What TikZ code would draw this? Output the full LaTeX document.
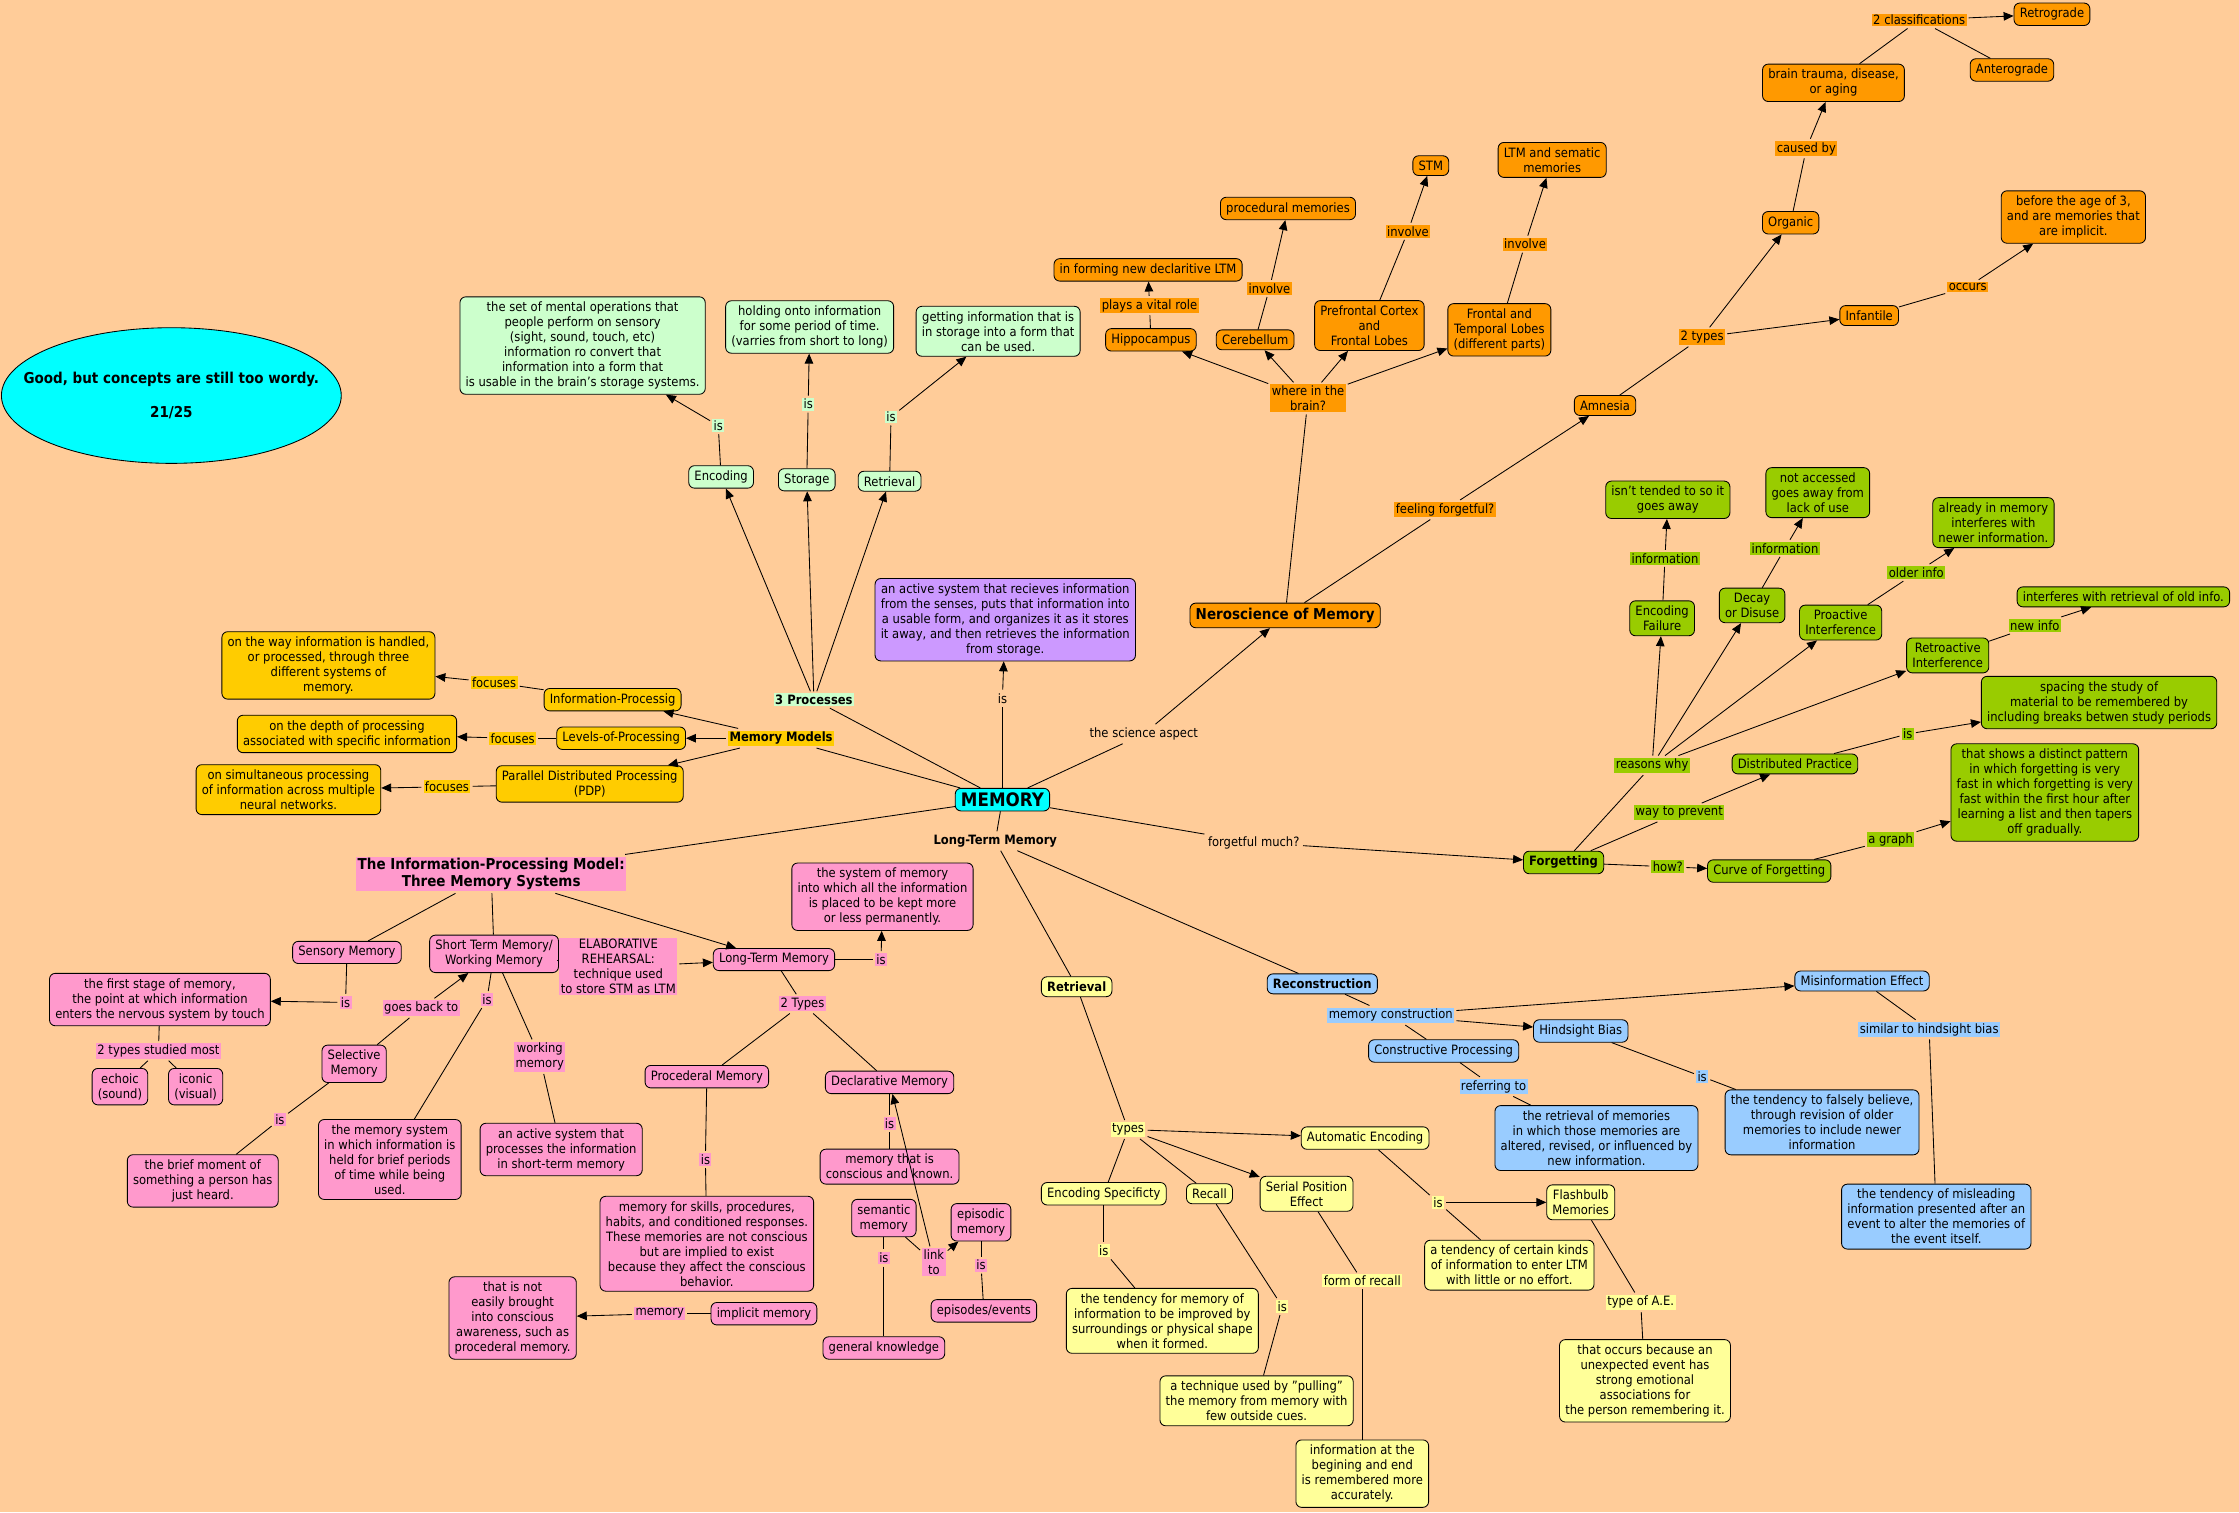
\documentclass[tikz,border=0pt]{standalone}
\usepackage{fontspec}
\setmainfont{DejaVu Sans}[FakeStretch=0.9]
\usetikzlibrary{arrows.meta,shapes.geometric}
\definecolor{bgPeach}{RGB}{255,204,153}
\definecolor{cMint}{RGB}{204,255,204}
\definecolor{cOrange}{RGB}{255,153,0}
\definecolor{cGold}{RGB}{255,204,0}
\definecolor{cPink}{RGB}{255,153,204}
\definecolor{cLilac}{RGB}{204,153,255}
\definecolor{cCyan}{RGB}{0,255,255}
\definecolor{cLemon}{RGB}{255,255,153}
\definecolor{cSky}{RGB}{153,204,255}
\definecolor{cLime}{RGB}{153,204,0}
\tikzset{
  concept/.style={draw, rounded corners=4pt, align=center, inner xsep=4pt, inner ysep=3.5pt, line width=0.6pt},
  mint/.style={concept, fill=cMint},
  orng/.style={concept, fill=cOrange},
  gold/.style={concept, fill=cGold},
  pink/.style={concept, fill=cPink},
  lemon/.style={concept, fill=cLemon},
  sky/.style={concept, fill=cSky},
  lime/.style={concept, fill=cLime},
  lnk/.style={inner sep=1pt, outer sep=1.5pt, align=center},
  lnkMint/.style={lnk, fill=cMint},
  lnkOrange/.style={lnk, fill=cOrange},
  lnkGold/.style={lnk, fill=cGold},
  lnkPink/.style={lnk, fill=cPink},
  lnkLemon/.style={lnk, fill=cLemon},
  lnkSky/.style={lnk, fill=cSky},
  lnkLime/.style={lnk, fill=cLime},
  bold/.style={font=\fontsize{9}{10.5}\selectfont\bfseries},
  boldBig/.style={font=\fontsize{10.5}{12}\selectfont\bfseries}
}
\begin{document}
\begin{tikzpicture}[x=1pt, y=-1pt, line width=0.6pt, >={Triangle[length=7pt,width=6pt]},
  font=\fontsize{9}{10.5}\selectfont]
\fill[bgPeach] (0,0) rectangle (1568,1059);
\useasboundingbox (0,0) rectangle (1568,1059);

\draw[fill=cCyan] (120,277) ellipse [x radius=119, y radius=47.5];
\node[align=center, boldBig] (grade) at (120,277) {Good, but concepts are still too wordy.\\[12pt]21/25};

\node[concept, fill=cCyan, font=\fontsize{13}{15}\selectfont\bfseries, inner ysep=3pt] (mem) at (702,560) {MEMORY};
\node[concept, fill=cLilac] (memdef) at (704,434) {an active system that recieves information\\from the senses, puts that information into\\a usable form, and organizes it as it stores\\it away, and then retrieves the information\\from storage.};
\node[lnk] (isMem) at (702,489) {is};
\draw (mem) -- (isMem);
\draw[->] (isMem) -- (memdef);

\node[lnkMint, bold] (procs) at (570,490) {3 Processes};
\node[mint] (enc) at (505,334) {Encoding};
\node[mint] (sto) at (565,336) {Storage};
\node[mint] (ret) at (623,337) {Retrieval};
\node[lnkMint] (isEnc) at (503,298) {is};
\node[lnkMint] (isSto) at (566,283) {is};
\node[lnkMint] (isRet) at (624,292) {is};
\node[mint] (encdef) at (408,242) {the set of mental operations that\\people perform on sensory\\(sight, sound, touch, etc)\\information ro convert that\\information into a form that\\is usable in the brain's storage systems.};
\node[mint] (stodef) at (567,229) {holding onto information\\for some period of time.\\(varries from short to long)};
\node[mint] (retdef) at (699,232) {getting information that is\\in storage into a form that\\can be used.};
\draw (mem) -- (procs);
\draw[->] (procs) -- (enc);
\draw[->] (procs) -- (sto);
\draw[->] (procs) -- (ret);
\draw (enc) -- (isEnc);
\draw[->] (isEnc) -- (encdef);
\draw (sto) -- (isSto);
\draw[->] (isSto) -- (stodef);
\draw (ret) -- (isRet);
\draw[->] (isRet) -- (retdef);

\node[lnkGold, bold] (models) at (547,517) {Memory Models};
\node[gold] (ipro) at (429,490) {Information-Processig};
\node[gold] (lop) at (435,517) {Levels-of-Processing};
\node[gold] (pdp) at (413,549) {Parallel Distributed Processing\\(PDP)};
\node[lnkGold] (fo1) at (346,478) {focuses};
\node[lnkGold] (fo2) at (359,517) {focuses};
\node[lnkGold] (fo3) at (313,551) {focuses};
\node[gold] (iproDef) at (230,466) {on the way information is handled,\\or processed, through three\\different systems of\\memory.};
\node[gold] (lopDef) at (243,514) {on the depth of processing\\associated with specific information};
\node[gold] (pdpDef) at (202,553) {on simultaneous processing\\of information across multiple\\neural networks.};
\draw (mem) -- (models);
\draw[->] (models) -- (ipro);
\draw[->] (models) -- (lop);
\draw[->] (models) -- (pdp);
\draw (ipro) -- (fo1);
\draw[->] (fo1) -- (iproDef);
\draw (lop) -- (fo2);
\draw[->] (fo2) -- (lopDef);
\draw (pdp) -- (fo3);
\draw[->] (fo3) -- (pdpDef);

\node[orng, boldBig] (neuro) at (900,431) {Neroscience of Memory};
\node[lnk] (sci) at (801,514) {the science aspect};
\node[lnkOrange] (where) at (916,279) {where in the\\brain?};
\node[orng] (hippo) at (806,238) {Hippocampus};
\node[orng] (cereb) at (879,238) {Cerebellum};
\node[orng] (prefr) at (959,228) {Prefrontal Cortex\\and\\Frontal Lobes};
\node[orng] (frontTemp) at (1050,231) {Frontal and\\Temporal Lobes\\(different parts)};
\node[lnkOrange] (vital) at (805,214) {plays a vital role};
\node[orng] (declLTM) at (804,189) {in forming new declaritive LTM};
\node[lnkOrange] (inv1) at (889,202) {involve};
\node[orng] (procMemN) at (902,146) {procedural memories};
\node[lnkOrange] (inv2) at (986,162) {involve};
\node[orng] (stm) at (1002,116) {STM};
\node[lnkOrange] (inv3) at (1068,171) {involve};
\node[orng] (ltmSem) at (1087,112) {LTM and sematic\\memories};
\draw (mem) -- (sci);
\draw[->] (sci) -- (neuro);
\draw (neuro) -- (where);
\draw[->] (where) -- (hippo);
\draw[->] (where) -- (cereb);
\draw[->] (where) -- (prefr);
\draw[->] (where) -- (frontTemp);
\draw (hippo) -- (vital);
\draw[->] (vital) -- (declLTM);
\draw (cereb) -- (inv1);
\draw[->] (inv1) -- (procMemN);
\draw (prefr) -- (inv2);
\draw[->] (inv2) -- (stm);
\draw (frontTemp) -- (inv3);
\draw[->] (inv3) -- (ltmSem);

\node[lnkOrange] (forgetful) at (1012,357) {feeling forgetful?};
\node[orng] (amnesia) at (1124,284) {Amnesia};
\node[lnkOrange] (twoTypes) at (1192,236) {2 types};
\node[orng] (organic) at (1254,156) {Organic};
\node[orng] (infant) at (1309,221) {Infantile};
\node[lnkOrange] (caused) at (1265,104) {caused by};
\node[orng] (trauma) at (1284,58) {brain trauma, disease,\\or aging};
\node[lnkOrange] (classif) at (1344,14) {2 classifications};
\node[orng] (retro) at (1437,10) {Retrograde};
\node[orng] (antero) at (1409,49) {Anterograde};
\node[lnkOrange] (occurs) at (1378,201) {occurs};
\node[orng] (age3) at (1452,152) {before the age of 3,\\and are memories that\\are implicit.};
\draw (neuro) -- (forgetful);
\draw[->] (forgetful) -- (amnesia);
\draw (amnesia) -- (twoTypes);
\draw[->] (twoTypes) -- (organic);
\draw[->] (twoTypes) -- (infant);
\draw (organic) -- (caused);
\draw[->] (caused) -- (trauma);
\draw (trauma) -- (classif);
\draw[->] (classif) -- (retro);
\draw (classif) -- (antero);
\draw (infant) -- (occurs);
\draw[->] (occurs) -- (age3);

\node[lime, bold] (forget) at (1095,604) {Forgetting};
\node[lnk] (fMuch) at (878,590) {forgetful much?};
\node[lnkLime] (reasons) at (1157,536) {reasons why};
\node[lime] (encFail) at (1164,433) {Encoding\\Failure};
\node[lime] (decay) at (1227,424) {Decay\\or Disuse};
\node[lime] (proact) at (1289,436) {Proactive\\Interference};
\node[lime] (retroact) at (1364,459) {Retroactive\\Interference};
\node[lnkLime] (info1) at (1166,391) {information};
\node[lime] (tended) at (1168,350) {isn't tended to so it\\goes away};
\node[lnkLime] (info2) at (1250,384) {information};
\node[lime] (notAcc) at (1273,345) {not accessed\\goes away from\\lack of use};
\node[lnkLime] (older) at (1342,401) {older info};
\node[lime] (already) at (1396,366) {already in memory\\interferes with\\newer information.};
\node[lnkLime] (newer) at (1425,438) {new info};
\node[lime] (oldInfo) at (1487,418) {interferes with retrieval of old info.};
\node[lnkLime] (prevent) at (1176,569) {way to prevent};
\node[lime] (distr) at (1257,535) {Distributed Practice};
\node[lnkLime] (isDistr) at (1336,514) {is};
\node[lime] (spacing) at (1470,492) {spacing the study of\\material to be remembered by\\including breaks betwen study periods};
\node[lnkLime] (how) at (1168,607) {how?};
\node[lime] (curve) at (1239,610) {Curve of Forgetting};
\node[lnkLime] (graph) at (1324,588) {a graph};
\node[lime] (pattern) at (1432,555) {that shows a distinct pattern\\in which forgetting is very\\fast in which forgetting is very\\fast within the first hour after\\learning a list and then tapers\\off gradually.};
\draw (mem) -- (fMuch);
\draw[->] (fMuch) -- (forget);
\draw (forget) -- (reasons);
\draw[->] (reasons) -- (encFail);
\draw[->] (reasons) -- (decay);
\draw[->] (reasons) -- (proact);
\draw[->] (reasons) -- (retroact);
\draw (encFail) -- (info1);
\draw[->] (info1) -- (tended);
\draw (decay) -- (info2);
\draw[->] (info2) -- (notAcc);
\draw (proact) -- (older);
\draw[->] (older) -- (already);
\draw (retroact) -- (newer);
\draw[->] (newer) -- (oldInfo);
\draw (forget) -- (prevent);
\draw[->] (prevent) -- (distr);
\draw (distr) -- (isDistr);
\draw[->] (isDistr) -- (spacing);
\draw (forget) -- (how);
\draw[->] (how) -- (curve);
\draw (curve) -- (graph);
\draw[->] (graph) -- (pattern);

\node[lnkPink, boldBig] (ipm) at (344,612) {The Information-Processing Model:\\Three Memory Systems};
\node[pink] (sensory) at (243,667) {Sensory Memory};
\node[pink] (stmw) at (346,668) {Short Term Memory/\\Working Memory};
\node[pink] (ltm) at (542,672) {Long-Term Memory};
\node[lnkPink] (elab) at (433,677) {ELABORATIVE\\REHEARSAL:\\technique used\\to store STM as LTM};
\node[lnkPink] (isLtm) at (617,672) {is};
\node[pink] (ltmDef) at (618,628) {the system of memory\\into which all the information\\is placed to be kept more\\or less permanently.};
\node[lnkPink] (isSens) at (242,702) {is};
\node[pink] (sensDef) at (112,700) {the first stage of memory,\\the point at which information\\enters the nervous system by touch};
\node[lnkPink] (twoStud) at (111,736) {2 types studied most};
\node[pink] (echoic) at (84,761) {echoic\\(sound)};
\node[pink] (iconic) at (137,761) {iconic\\(visual)};
\node[lnkPink] (goesBack) at (295,706) {goes back to};
\node[pink] (select) at (248,745) {Selective\\Memory};
\node[lnkPink] (isSel) at (196,784) {is};
\node[pink] (selDef) at (142,827) {the brief moment of\\something a person has\\just heard.};
\node[lnkPink] (isStm) at (341,700) {is};
\node[pink] (stmDef) at (273,812) {the memory system\\in which information is\\held for brief periods\\of time while being\\used.};
\node[lnkPink] (workMem) at (378,740) {working\\memory};
\node[pink] (workDef) at (393,805) {an active system that\\processes the information\\in short-term memory};
\draw (mem) -- (ipm);
\draw (ipm) -- (sensory);
\draw (ipm) -- (stmw);
\draw[->] (ipm) -- (ltm);
\draw (stmw) -- (elab);
\draw[->] (elab) -- (ltm);
\draw (ltm) -- (isLtm);
\draw[->] (isLtm) -- (ltmDef);
\draw (sensory) -- (isSens);
\draw[->] (isSens) -- (sensDef);
\draw (sensDef) -- (twoStud);
\draw (twoStud) -- (echoic);
\draw (twoStud) -- (iconic);
\draw (select) -- (goesBack);
\draw[->] (goesBack) -- (stmw);
\draw (select) -- (isSel);
\draw (isSel) -- (selDef);
\draw (stmw) -- (isStm);
\draw (isStm) -- (stmDef);
\draw (stmw) -- (workMem);
\draw (workMem) -- (workDef);

\node[lnkPink] (twoTypesL) at (562,703) {2 Types};
\node[pink] (procMem) at (495,754) {Procederal Memory};
\node[pink] (declMem) at (623,758) {Declarative Memory};
\node[lnkPink] (isProc) at (494,812) {is};
\node[pink] (procDef) at (495,871) {memory for skills, procedures,\\habits, and conditioned responses.\\These memories are not conscious\\but are implied to exist\\because they affect the conscious\\behavior.};
\node[lnkPink] (isDecl) at (623,787) {is};
\node[pink] (declDef) at (623,817) {memory that is\\conscious and known.};
\node[pink] (semantic) at (619,853) {semantic\\memory};
\node[pink] (episodic) at (687,856) {episodic\\memory};
\node[lnkPink] (linkTo) at (654,884) {link\\to};
\node[lnkPink] (isSem) at (619,881) {is};
\node[pink] (general) at (619,944) {general knowledge};
\node[lnkPink] (isEpi) at (687,886) {is};
\node[pink] (episodes) at (689,918) {episodes/events};
\node[pink] (implicit) at (535,920) {implicit memory};
\node[lnkPink] (memLbl) at (462,920) {memory};
\node[pink] (notEasy) at (359,923) {that is not\\easily brought\\into conscious\\awareness, such as\\procederal memory.};
\draw (ltm) -- (twoTypesL);
\draw (twoTypesL) -- (procMem);
\draw (twoTypesL) -- (declMem);
\draw (procMem) -- (isProc);
\draw (isProc) -- (procDef);
\draw (declMem) -- (isDecl);
\draw (isDecl) -- (declDef);
\draw (semantic) -- (linkTo);
\draw[->] (linkTo) -- (episodic);
\draw[->] (linkTo) -- (declMem);
\draw (semantic) -- (isSem);
\draw (isSem) -- (general);
\draw (episodic) -- (isEpi);
\draw (isEpi) -- (episodes);
\draw (implicit) -- (memLbl);
\draw[->] (memLbl) -- (notEasy);

\node[lnk, bold] (ltmLbl) at (697,589) {Long-Term Memory};
\node[lemon, bold] (retrieval) at (754,691) {Retrieval};
\node[sky, bold] (recon) at (926,689) {Reconstruction};
\node[lnkLemon] (types) at (790,791) {types};
\node[lemon] (autoEnc) at (956,797) {Automatic Encoding};
\node[lemon] (encSpec) at (773,836) {Encoding Specificty};
\node[lemon] (recall) at (847,836) {Recall};
\node[lemon] (serial) at (915,836) {Serial Position\\Effect};
\node[lnkLemon] (isSpec) at (773,876) {is};
\node[lemon] (specDef) at (814,925) {the tendency for memory of\\information to be improved by\\surroundings or physical shape\\when it formed.};
\node[lnkLemon] (isRecall) at (898,915) {is};
\node[lemon] (recallDef) at (880,981) {a technique used by "pulling"\\the memory from memory with\\few outside cues.};
\node[lnkLemon] (formRecall) at (954,897) {form of recall};
\node[lemon] (serialDef) at (954,1032) {information at the\\begining and end\\is remembered more\\accurately.};
\node[lnkLemon] (isAuto) at (1007,842) {is};
\node[lemon] (flash) at (1107,842) {Flashbulb\\Memories};
\node[lemon] (autoDef) at (1057,886) {a tendency of certain kinds\\of information to enter LTM\\with little or no effort.};
\node[lnkLemon] (typeAE) at (1149,912) {type of A.E.};
\node[lemon] (flashDef) at (1152,967) {that occurs because an\\unexpected event has\\strong emotional\\associations for\\the person remembering it.};
\draw (mem) -- (ltmLbl);
\draw (ltmLbl) -- (retrieval);
\draw (ltmLbl) -- (recon);
\draw (retrieval) -- (types);
\draw[->] (types) -- (autoEnc);
\draw[->] (types) -- (serial);
\draw (types) -- (encSpec);
\draw (types) -- (recall);
\draw (encSpec) -- (isSpec);
\draw (isSpec) -- (specDef);
\draw (recall) -- (isRecall);
\draw (isRecall) -- (recallDef);
\draw (serial) -- (formRecall);
\draw (formRecall) -- (serialDef);
\draw (autoEnc) -- (isAuto);
\draw[->] (isAuto) -- (flash);
\draw (isAuto) -- (autoDef);
\draw (flash) -- (typeAE);
\draw (typeAE) -- (flashDef);

\node[lnkSky] (memCons) at (974,711) {memory construction};
\node[sky] (misinfo) at (1304,687) {Misinformation Effect};
\node[sky] (hindsight) at (1107,722) {Hindsight Bias};
\node[sky] (construct) at (1011,736) {Constructive Processing};
\node[lnkSky] (referring) at (1046,761) {referring to};
\node[sky] (constDef) at (1118,797) {the retrieval of memories\\in which those memories are\\altered, revised, or influenced by\\new information.};
\node[lnkSky] (isHind) at (1192,754) {is};
\node[sky] (hindDef) at (1276,786) {the tendency to falsely believe,\\through revision of older\\memories to include newer\\information};
\node[lnkSky] (similar) at (1351,721) {similar to hindsight bias};
\node[sky] (misDef) at (1356,852) {the tendency of misleading\\information presented after an\\event to alter the memories of\\the event itself.};
\draw (recon) -- (memCons);
\draw[->] (memCons) -- (misinfo);
\draw[->] (memCons) -- (hindsight);
\draw (memCons) -- (construct);
\draw (construct) -- (referring);
\draw (referring) -- (constDef);
\draw (hindsight) -- (isHind);
\draw (isHind) -- (hindDef);
\draw (misinfo) -- (similar);
\draw (similar) -- (misDef);
\end{tikzpicture}
\end{document}
